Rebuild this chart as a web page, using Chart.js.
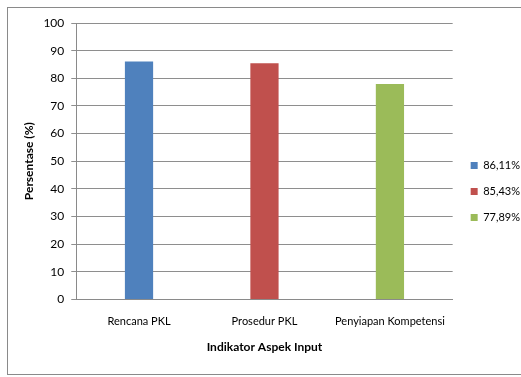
<!DOCTYPE html>
<html>
<head>
<meta charset="utf-8">
<script src="https://cdn.jsdelivr.net/npm/chart.js@4/dist/chart.umd.min.js"></script>
<style>
    body { margin: 0; background: #fff; }
    #wrap { position: relative; width: 521px; height: 377px; overflow: hidden; }
    #frame { position: absolute; left: 7px; top: 7px; width: 540px; height: 366px; border: 1px solid #8a8a8a; }
    #chart { position: absolute; left: 0; top: 0; }
</style>
</head>
<body>
<div id="wrap">
    <div id="frame"></div>
    <canvas id="chart" width="521" height="377"></canvas>
</div>
<script>
// chart data
const categories = ['Rencana PKL', 'Prosedur PKL', 'Penyiapan Kompetensi'];
const seriesLabels = ['86,11%', '85,43%', '77,89%'];
const seriesValues = [86.11, 85.43, 77.89];
const seriesColors = ['#4F81BD', '#C0504D', '#9BBB59'];
const yTicks = [0, 10, 20, 30, 40, 50, 60, 70, 80, 90, 100];

const FONT = 'Lato, "Open Sans", sans-serif';

// one dataset per bar, null elsewhere so each bar sits centred on its category
const datasets = seriesValues.map((v, i) => ({
    label: seriesLabels[i],
    data: categories.map((_, j) => (j === i ? v : null)),
    backgroundColor: seriesColors[i],
    borderWidth: 0,
    barPercentage: 0.225,
    categoryPercentage: 1.0
}));

// push the legend a bit away from the plot (Excel leaves a wider gap)
const legendGap = {
    id: 'legendGap',
    afterLayout(chart) {
        const lg = chart.legend;
        if (lg) {
            lg.left += 3;
            lg.right += 3;
            lg.top += 3;
            lg.bottom += 3;
        }
    }
};

new Chart(document.getElementById('chart'), {
    type: 'bar',
    data: { labels: categories, datasets: datasets },
    plugins: [legendGap],
    options: {
        responsive: false,
        animation: false,
        skipNull: true,
        layout: { padding: { left: 22, right: -6, top: 23, bottom: 23 } },
        plugins: {
            tooltip: { enabled: false },
            legend: {
                position: 'right',
                labels: {
                    boxWidth: 7,
                    boxHeight: 7,
                    padding: 15,
                    color: '#000',
                    font: { family: FONT, size: 11 }
                }
            }
        },
        scales: {
            x: {
                grid: { display: false },
                border: { display: true, color: '#8a8a8a' },
                ticks: { color: '#000', padding: 7, font: { family: FONT, size: 11 } },
                title: {
                    display: true,
                    text: 'Indikator Aspek Input',
                    color: '#000',
                    padding: { top: 5, bottom: 0 },
                    font: { family: FONT, size: 12, weight: 'bold' }
                }
            },
            y: {
                min: 0,
                max: 100,
                afterBuildTicks: axis => { axis.ticks = yTicks.map(v => ({ value: v })); },
                grid: { color: '#8e8e8e', tickLength: 5 },
                border: { color: '#8a8a8a' },
                ticks: { color: '#000', padding: 7, font: { family: FONT, size: 12 } },
                title: {
                    display: true,
                    text: 'Persentase (%)',
                    color: '#000',
                    padding: { top: 0, bottom: 0 },
                    font: { family: FONT, size: 12, weight: 'bold' }
                }
            }
        }
    }
});
</script>
</body>
</html>
